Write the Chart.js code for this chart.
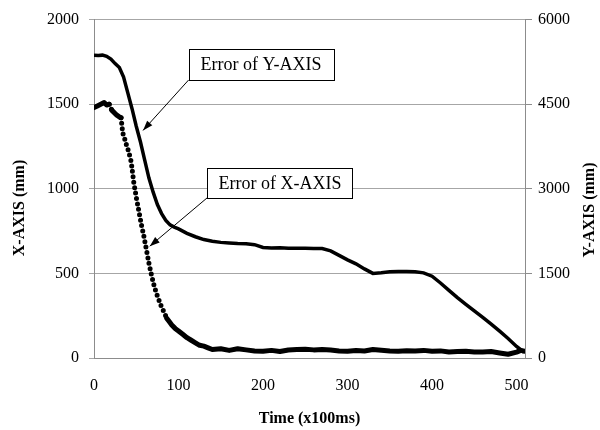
<!DOCTYPE html>
<html>
<head>
<meta charset="utf-8">
<script src="https://cdn.jsdelivr.net/npm/chart.js@4.4.0/dist/chart.umd.min.js"></script>
<style>
  html, body { margin: 0; padding: 0; background: #fff; }
</style>
</head>
<body>
<canvas id="chart" width="600" height="430"></canvas>
<script>
const FONT = '"Liberation Serif", "Times New Roman", serif';

// Error of X-AXIS (left axis, mm) against time (x100ms)
const timeX = [0, 4, 8, 12, 15, 18, 21, 24, 27, 30, 32, 34, 36, 38, 41, 44, 47, 50, 53, 56,
  59, 62, 65, 68, 71, 74, 77, 80, 83, 86, 89, 92, 96, 100, 105, 110, 115, 120, 125, 130,
  135, 140, 150, 160, 170, 180, 190, 200, 210, 220, 230, 240, 250, 260, 270, 280, 290, 300, 310, 320,
  330, 340, 350, 360, 370, 380, 390, 400, 410, 420, 430, 440, 450, 460, 470, 480, 490, 500, 505, 510];
const errX = [1480, 1490, 1500, 1510, 1495, 1500, 1465, 1450, 1435, 1425, 1420, 1330, 1300, 1265, 1220, 1160, 1040, 950, 870, 790,
  720, 640, 560, 490, 430, 380, 340, 300, 270, 235, 215, 195, 175, 160, 140, 120, 105, 90, 75, 70,
  60, 50, 55, 45, 55, 48, 42, 40, 45, 38, 47, 50, 52, 48, 50, 47, 42, 40, 44, 41,
  50, 46, 42, 40, 43, 42, 45, 40, 42, 35, 38, 40, 36, 35, 38, 30, 22, 35, 45, 40];

// Error of Y-AXIS (right axis, mm)
const timeY = [0, 5, 10, 15, 20, 25, 30, 35, 40, 45, 50, 55, 60, 65, 70, 75, 80, 85, 90, 95, 100,
  110, 120, 130, 140, 150, 160, 170, 180, 190, 200, 210, 220, 230, 240, 250, 260, 270, 280, 290, 300,
  310, 320, 330, 340, 350, 360, 370, 380, 390, 400, 410, 420, 430, 440, 450, 460, 470, 480, 490, 500, 509];
const errY = [5370, 5365, 5370, 5350, 5300, 5220, 5150, 4980, 4700, 4420, 4110, 3830, 3510, 3190, 2940, 2720, 2560, 2440, 2360, 2320, 2290,
  2210, 2150, 2100, 2070, 2050, 2040, 2030, 2025, 2010, 1960, 1950, 1955, 1945, 1945, 1945, 1940, 1940, 1900, 1820, 1740,
  1670, 1580, 1500, 1510, 1530, 1535, 1535, 1530, 1510, 1450, 1330, 1200, 1070, 950, 835, 719, 600, 475, 345, 205, 100];

const xTicks = [0, 100, 200, 300, 400, 500];

// callout boxes, in data units: box corners and arrow tip
const notes = [
  { label: 'Error of Y-AXIS', scale: 'y2', from: [112, 5474], to: [283, 4930], tip: [58, 4035] },
  { label: 'Error of X-AXIS', scale: 'y', from: [134, 1123], to: [306, 947], tip: [66, 661] }
];

function pts(xs, ys) {
  return xs.map((x, i) => ({ x: x, y: ys[i] }));
}

function steep(ctx) {
  return Math.abs(ctx.p1.y - ctx.p0.y) > 2 * Math.abs(ctx.p1.x - ctx.p0.x);
}

const plain = v => String(v);

const calloutPlugin = {
  id: 'callouts',
  afterDraw(chart) {
    const c = chart.ctx;
    const xs = chart.scales.x;
    c.save();
    notes.forEach(n => {
      const ys = chart.scales[n.scale];
      const x1 = xs.getPixelForValue(n.from[0]), y1 = ys.getPixelForValue(n.from[1]);
      const x2 = xs.getPixelForValue(n.to[0]), y2 = ys.getPixelForValue(n.to[1]);
      const tx = xs.getPixelForValue(n.tip[0]), ty = ys.getPixelForValue(n.tip[1]);
      // arrow
      c.strokeStyle = '#000';
      c.lineWidth = 1;
      c.beginPath();
      c.moveTo(x1, y2);
      c.lineTo(tx, ty);
      c.stroke();
      const a = Math.atan2(ty - y2, tx - x1);
      c.fillStyle = '#000';
      c.beginPath();
      c.moveTo(tx, ty);
      c.lineTo(tx - 10 * Math.cos(a) + 3.5 * Math.sin(a), ty - 10 * Math.sin(a) - 3.5 * Math.cos(a));
      c.lineTo(tx - 10 * Math.cos(a) - 3.5 * Math.sin(a), ty - 10 * Math.sin(a) + 3.5 * Math.cos(a));
      c.closePath();
      c.fill();
      // box
      c.fillStyle = '#fff';
      c.fillRect(x1, y1, x2 - x1, y2 - y1);
      c.strokeRect(Math.round(x1) + 0.5, Math.round(y1) + 0.5, Math.round(x2 - x1), Math.round(y2 - y1));
      c.fillStyle = '#000';
      c.font = '18px ' + FONT;
      c.textAlign = 'center';
      c.textBaseline = 'middle';
      c.fillText(n.label, (x1 + x2) / 2, (y1 + y2) / 2 + 1);
    });
    // vertical axis titles, both reading bottom to top
    c.font = 'bold 16px ' + FONT;
    c.textAlign = 'center';
    c.textBaseline = 'middle';
    [['X-AXIS (mm)', 20, 208], ['Y-AXIS (mm)', 590, 210]].forEach(t => {
      c.save();
      c.translate(t[1], t[2]);
      c.rotate(-Math.PI / 2);
      c.fillText(t[0], 0, 0);
      c.restore();
    });
    c.restore();
  }
};

new Chart(document.getElementById('chart'), {
  type: 'line',
  data: {
    datasets: [
      {
        label: 'Error of Y-AXIS',
        data: pts(timeY, errY),
        yAxisID: 'y2',
        borderColor: '#000',
        borderWidth: 3.5,
        pointRadius: 0,
        tension: 0
      },
      {
        label: 'Error of X-AXIS',
        data: pts(timeX, errX),
        yAxisID: 'y',
        borderColor: '#000',
        borderWidth: 5,
        borderCapStyle: 'round',
        borderJoinStyle: 'round',
        pointRadius: 0,
        tension: 0,
        segment: {
          borderDash: ctx => steep(ctx) ? [0, 5.5] : undefined
        }
      }
    ]
  },
  options: {
    responsive: false,
    animation: false,
    layout: { padding: { top: 16, left: 0, right: 0, bottom: 0 } },
    plugins: { legend: { display: false }, tooltip: { enabled: false } },
    scales: {
      x: {
        type: 'linear',
        min: 0,
        max: 510,
        afterBuildTicks: s => { s.ticks = xTicks.map(v => ({ value: v })); },
        afterFit: s => { s.height = 72; },
        grid: { drawOnChartArea: false, drawTicks: false },
        border: { color: '#8c8c8c' },
        ticks: { color: '#000', padding: 18, maxRotation: 0, callback: plain, font: { family: FONT, size: 16 } },
        title: { display: true, text: 'Time (x100ms)', color: '#000', padding: { top: 0, bottom: 2 }, font: { family: FONT, size: 16, weight: 'bold' } }
      },
      y: {
        position: 'left',
        min: 0,
        max: 2000,
        ticks: { stepSize: 500, color: '#000', padding: 10, callback: plain, font: { family: FONT, size: 16 } },
        afterFit: s => { s.width = 94; },
        grid: { color: '#a6a6a6', tickLength: 5 },
        border: { color: '#8c8c8c' }
      },
      y2: {
        position: 'right',
        min: 0,
        max: 6000,
        ticks: { stepSize: 1500, color: '#000', padding: 6, callback: plain, font: { family: FONT, size: 16 } },
        afterFit: s => { s.width = 75; },
        grid: { drawOnChartArea: false, color: '#8c8c8c', tickLength: 7 },
        border: { color: '#8c8c8c' }
      }
    }
  },
  plugins: [calloutPlugin]
});
</script>
</body>
</html>
